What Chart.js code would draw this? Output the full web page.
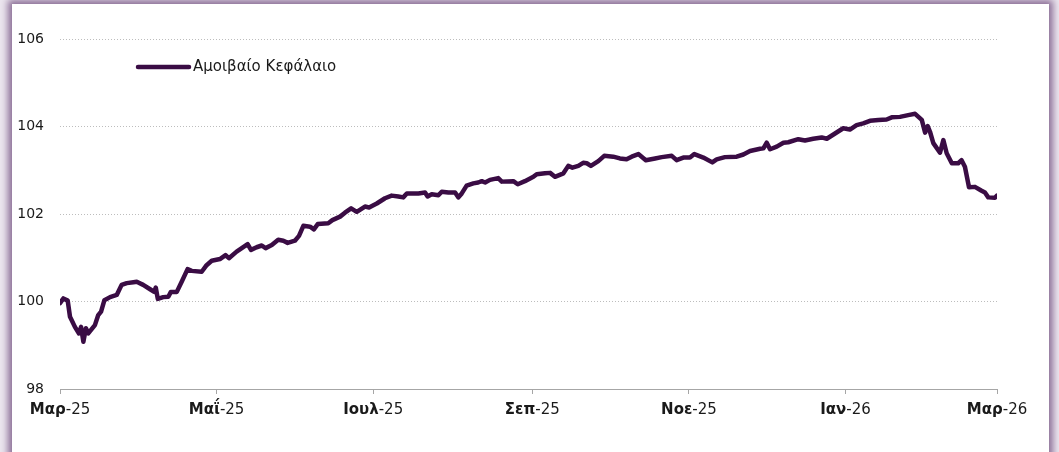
<!DOCTYPE html>
<html>
<head>
<meta charset="utf-8">
<script src="https://cdn.jsdelivr.net/npm/chart.js@4"></script>
<style>
  html, body { margin: 0; padding: 0; }
  body { width: 1059px; height: 452px; overflow: hidden; background: #ece6ef; position: relative; }
  /* white panel with the purple shadowed frame */
  #panel {
    position: absolute; left: 12px; top: 4px; width: 1037px; height: 480px;
    background: #ffffff;
    box-shadow: 0 0 7px 4px rgba(105, 70, 120, 0.75);
  }
  #wrap { position: absolute; left: 0; top: 0; width: 1059px; height: 452px; }
</style>
</head>
<body>
<div id="panel"></div>
<div id="wrap"><canvas id="navChart" width="1059" height="452"></canvas></div>
<script>
// Series: days since 1 Mar 2025 and index level
const seriesLabel = 'Αμοιβαίο Κεφάλαιο';
const dayOffsets = [
  0, 1.3, 3.0, 3.9, 5.8, 7.4, 8.2, 9.1, 10.1, 11.0, 13.6, 14.9, 16.0, 17.3, 19.5, 22.1, 24.0, 26.0, 28.6, 29.9,
  32.4, 35.1, 36.7, 37.3, 38.1, 40.2, 42.2, 43.2, 45.5, 47.4, 49.7, 51.3, 55.2, 57.1, 59.1, 62.3, 64.5, 65.8, 68.8, 72.1,
  73.1, 74.4, 76.6, 78.6, 80.1, 82.5, 85.0, 87.0, 88.7, 91.5, 93.1, 94.8, 97.4, 98.9, 100.4, 104.5, 106.1, 109.1, 111.0, 113.4,
  115.6, 118.8, 120.4, 123.4, 126.6, 129.2, 131.8, 133.7, 135.1, 139.6, 142.2, 143.2, 144.8, 147.4, 148.7, 151.3, 153.9, 155.2, 156.5, 158.4,
  161.0, 162.9, 164.3, 165.6, 167.5, 170.7, 172.1, 176.6, 178.3, 181.1, 184.4, 185.7, 188.9, 190.9, 192.8, 196.1, 198.0, 199.6, 201.9, 203.8,
  205.2, 206.8, 209.7, 212.0, 215.5, 218.1, 220.7, 222.7, 225.3, 228.2, 231.8, 234.4, 238.3, 240.2, 242.8, 245.4, 247.1, 250.6, 254.1, 255.8,
  259.0, 263.6, 266.2, 268.8, 272.7, 274.0, 275.3, 276.6, 279.2, 281.8, 283.7, 287.6, 290.2, 293.4, 296.7, 298.7, 301.9, 305.1, 307.7, 310.3,
  312.9, 315.5, 318.8, 322.0, 324.0, 327.2, 330.4, 333.1, 334.4, 335.7, 337.0, 338.0, 338.9, 340.2, 342.8, 344.1, 345.4, 347.4, 349.9, 351.2,
  352.5, 354.1, 356.4, 359.0, 360.3, 361.6, 364.2, 365
];
const navValues = [
  99.96, 100.07, 100.02, 99.65, 99.42, 99.27, 99.42, 99.08, 99.39, 99.27, 99.46, 99.69, 99.77, 100.03, 100.10, 100.15, 100.38, 100.42, 100.44, 100.45,
  100.38, 100.28, 100.22, 100.32, 100.06, 100.10, 100.11, 100.22, 100.22, 100.45, 100.74, 100.70, 100.68, 100.83, 100.93, 100.97, 101.06, 100.99, 101.14, 101.27,
  101.31, 101.18, 101.24, 101.28, 101.22, 101.29, 101.41, 101.39, 101.34, 101.39, 101.50, 101.73, 101.71, 101.65, 101.77, 101.79, 101.86, 101.94, 102.03, 102.13,
  102.05, 102.17, 102.15, 102.24, 102.36, 102.42, 102.40, 102.38, 102.47, 102.47, 102.49, 102.40, 102.45, 102.43, 102.51, 102.49, 102.49, 102.38, 102.47, 102.65,
  102.70, 102.72, 102.75, 102.72, 102.78, 102.82, 102.74, 102.75, 102.68, 102.75, 102.85, 102.91, 102.93, 102.94, 102.85, 102.93, 103.10, 103.06, 103.10, 103.17,
  103.16, 103.10, 103.21, 103.33, 103.31, 103.27, 103.25, 103.31, 103.37, 103.23, 103.27, 103.30, 103.33, 103.23, 103.29, 103.29, 103.37, 103.29, 103.18, 103.25,
  103.30, 103.31, 103.36, 103.44, 103.49, 103.50, 103.63, 103.48, 103.54, 103.63, 103.64, 103.71, 103.68, 103.72, 103.75, 103.72, 103.84, 103.96, 103.93, 104.03,
  104.07, 104.13, 104.15, 104.16, 104.21, 104.22, 104.26, 104.29, 104.22, 104.15, 103.86, 104.01, 103.88, 103.62, 103.40, 103.69, 103.39, 103.16, 103.16, 103.23,
  103.08, 102.61, 102.62, 102.53, 102.49, 102.38, 102.37, 102.42
];

// x-axis ticks: month starts, every two months
const tickDays = [0, 61, 122, 184, 245, 306, 365];
const tickMonths = ['Μαρ', 'Μαΐ', 'Ιουλ', 'Σεπ', 'Νοε', 'Ιαν', 'Μαρ'];
const tickYears = ['-25', '-25', '-25', '-25', '-25', '-26', '-26'];

const lineColor = '#3a0c44';
const fontFamily = '"DejaVu Sans", sans-serif';

// draws the month labels with a bold month and regular year
const mixedTickLabels = {
  id: 'mixedTickLabels',
  afterDraw(chart) {
    const ctx = chart.ctx;
    const xScale = chart.scales.x;
    ctx.save();
    ctx.fillStyle = '#1a1a1a';
    ctx.textBaseline = 'middle';
    ctx.textAlign = 'left';
    tickDays.forEach((d, i) => {
      const px = xScale.getPixelForValue(d);
      ctx.font = 'bold 15px ' + fontFamily;
      const w1 = ctx.measureText(tickMonths[i]).width;
      ctx.font = '15px ' + fontFamily;
      const w2 = ctx.measureText(tickYears[i]).width;
      const x = px - (w1 + w2) / 2;
      ctx.font = 'bold 15px ' + fontFamily;
      ctx.fillText(tickMonths[i], x, 410);
      ctx.font = '15px ' + fontFamily;
      ctx.fillText(tickYears[i], x + w1, 410);
    });
    ctx.restore();
  }
};

// legend drawn inside the plot area
const lineLegend = {
  id: 'lineLegend',
  afterDraw(chart) {
    const ctx = chart.ctx;
    const area = chart.chartArea;
    const y = area.top + 28;
    ctx.save();
    ctx.strokeStyle = lineColor;
    ctx.lineWidth = 4.5;
    ctx.lineCap = 'round';
    ctx.beginPath();
    ctx.moveTo(area.left + 78, y);
    ctx.lineTo(area.left + 129, y);
    ctx.stroke();
    ctx.fillStyle = '#1a1a1a';
    ctx.font = '15px ' + fontFamily;
    ctx.textBaseline = 'middle';
    ctx.fillText(chart.data.datasets[0].label, area.left + 133, y);
    ctx.restore();
  }
};

const points = dayOffsets.map((d, i) => ({ x: d, y: navValues[i] }));

new Chart(document.getElementById('navChart'), {
  type: 'line',
  data: {
    datasets: [{
      label: seriesLabel,
      data: points,
      borderColor: lineColor,
      backgroundColor: lineColor,
      borderWidth: 4.5,
      borderJoinStyle: 'round',
      borderCapStyle: 'round',
      pointRadius: 0,
      tension: 0
    }]
  },
  options: {
    responsive: false,
    animation: false,
    layout: { padding: { top: 39, right: 62, left: 0, bottom: 0 } },
    plugins: {
      legend: { display: false },
      tooltip: { enabled: false }
    },
    scales: {
      x: {
        type: 'linear',
        min: 0,
        max: 365,
        afterBuildTicks: (scale) => { scale.ticks = tickDays.map(v => ({ value: v })); },
        afterFit: (scale) => { scale.height = 63; },
        ticks: { color: 'transparent', font: { size: 14 }, maxRotation: 0 },
        grid: { drawOnChartArea: false, drawTicks: true, tickLength: 5, color: '#a6a6a6' },
        border: { color: '#a6a6a6', width: 1 }
      },
      y: {
        min: 98,
        max: 106,
        afterBuildTicks: (scale) => { scale.ticks = [98, 100, 102, 104, 106].map(v => ({ value: v })); },
        afterFit: (scale) => { scale.width = 60; },
        ticks: {
          color: '#1a1a1a',
          padding: 16,
          font: { family: fontFamily, size: 14 }
        },
        grid: {
          drawTicks: false,
          color: (c) => c.tick && c.tick.value === 98 ? 'transparent' : '#bdbdbd',
          lineWidth: 1
        },
        border: { display: false, dash: [1, 2] }
      }
    }
  },
  plugins: [mixedTickLabels, lineLegend]
});
</script>
</body>
</html>
